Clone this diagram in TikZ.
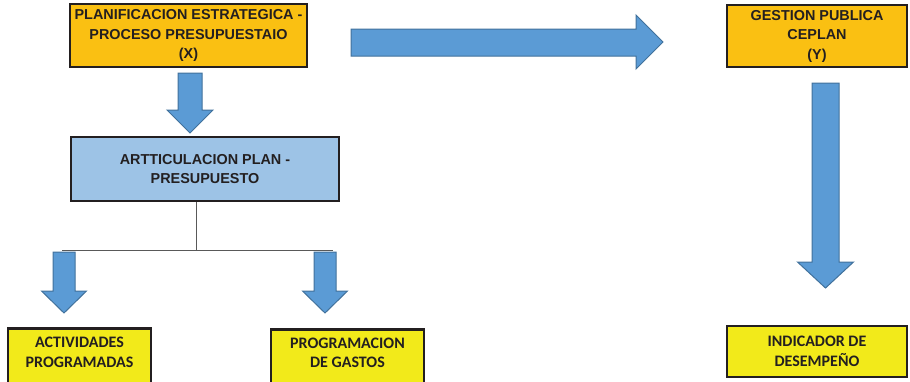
\documentclass[tikz,border=0pt]{standalone}
\usepackage{fontspec}
\newfontfamily\arialf{Liberation Sans}
\newfontfamily\calibrif{Carlito}
\usepackage{tikz}
\usetikzlibrary{positioning}

\definecolor{boxorange}{HTML}{FAC012}
\definecolor{boxblue}{HTML}{9DC3E6}
\definecolor{boxyellow}{HTML}{F2EA1A}
\definecolor{arrfill}{HTML}{5B9BD5}
\definecolor{arrline}{HTML}{41719C}
\definecolor{ink}{HTML}{231F20}

% block arrow pointing down: x, top, neck, tip, shaft half, head half
\newcommand\blockdown[6]{%
  \draw[blockarr] ({#1-#5},#2) -- ({#1+#5},#2) -- ({#1+#5},#3) -- ({#1+#6},#3)
    -- (#1,#4) -- ({#1-#6},#3) -- ({#1-#5},#3) -- cycle;}

\begin{document}
\begin{tikzpicture}[
  x=1pt, y=-1pt,
  topbox/.style={draw=ink, line width=2.5pt, inner sep=0pt, align=center,
    text=ink, font=\arialf\bfseries\fontsize{14.4}{19.5}\selectfont},
  lowbox/.style={draw=ink, line width=2.5pt, inner sep=0pt, fill=boxyellow},
  lowtxt/.style={inner sep=0pt, align=center, text=ink,
    font=\calibrif\bfseries\fontsize{16}{19.5}\selectfont},
  blockarr/.style={fill=arrfill, draw=arrline, line width=1pt, line join=miter},
  link/.style={draw=black!65, line width=1pt},
]
\useasboundingbox (0,0) rectangle (910,381);
\clip (0,0) rectangle (910,381);

% upper boxes
\node[topbox, fill=boxorange, minimum width=237pt, minimum height=63pt] (plan) at (188.5,35.5)
  {PLANIFICACION ESTRATEGICA -\\PROCESO PRESUPUESTAIO\\(X)};
\node[topbox, fill=boxorange, minimum width=180pt, minimum height=62pt] (gest) at (817,36)
  {GESTION PUBLICA\\CEPLAN\\(Y)};
\node[topbox, fill=boxblue, minimum width=268pt, minimum height=64pt] (artic) at (205,169)
  {ARTTICULACION PLAN -\\PRESUPUESTO};

% lower boxes
\node[lowbox, minimum width=143pt, minimum height=70pt, anchor=north] (activ) at (79.5,327) {};
\node[lowtxt] (activtxt) at (79.5,352.5) {ACTIVIDADES\\PROGRAMADAS};
\node[lowbox, minimum width=153pt, minimum height=70pt, anchor=north] (gasto) at (347.5,328) {};
\node[lowtxt] (gastotxt) at (347.5,353) {PROGRAMACION\\DE GASTOS};
\node[lowbox, minimum width=180pt, minimum height=51pt, lowtxt] (indic) at (817,351.5)
  {INDICADOR DE\\DESEMPEÑO};

% split line
\coordinate (split) at (196,250);
\coordinate (splitL) at (62,250);
\coordinate (splitR) at (333,250);
\draw[link] (artic.south -| split) -- (split);
\draw[link] (splitL) -- (splitR);

% block arrows
\blockdown{190}{73}{110}{133}{12}{23}
\blockdown{825.5}{83}{262}{288}{13.5}{28}
\blockdown{64}{252}{291}{313}{11}{22.5}
\blockdown{325}{252}{291}{313}{11}{22.5}
\draw[blockarr] (351,29) -- (636,29) -- (636,15) -- (663,42) -- (636,69) -- (636,56) -- (351,56) -- cycle;

\end{tikzpicture}
\end{document}
